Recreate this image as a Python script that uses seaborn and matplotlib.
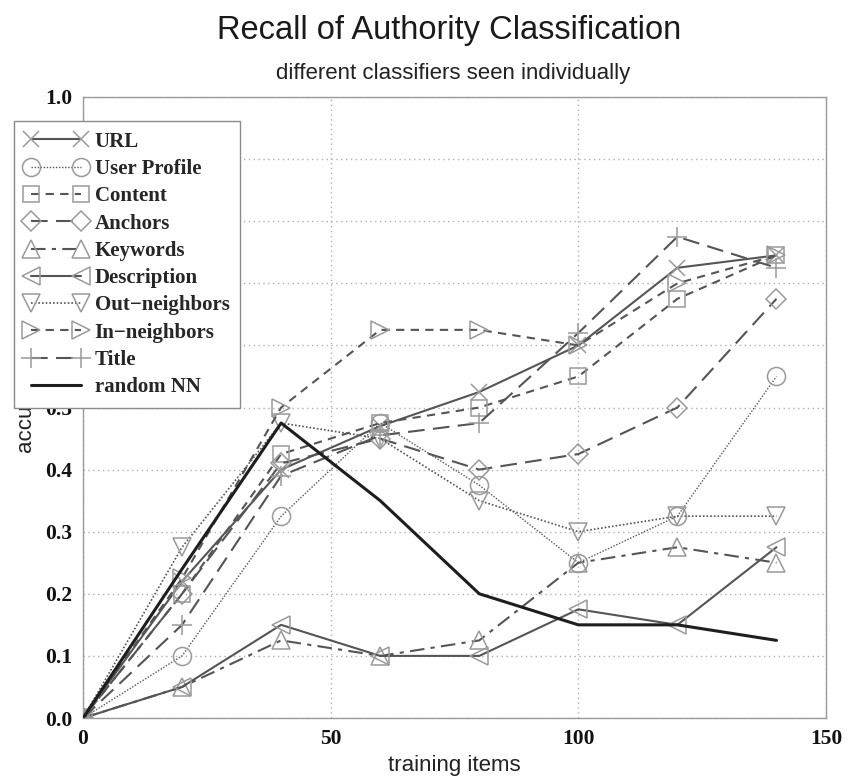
import matplotlib
matplotlib.use("Agg")
import matplotlib.pyplot as plt
import seaborn as sns
import pandas as pd

training_items = [0, 20, 40, 60, 80, 100, 120, 140]
url = [0, 0.22, 0.40, 0.47, 0.525, 0.60, 0.725, 0.745]
user_profile = [0, 0.10, 0.325, 0.475, 0.375, 0.25, 0.325, 0.55]
content = [0, 0.20, 0.425, 0.475, 0.50, 0.55, 0.675, 0.745]
anchors = [0, 0.20, 0.41, 0.45, 0.40, 0.425, 0.50, 0.675]
keywords = [0, 0.05, 0.125, 0.10, 0.125, 0.25, 0.275, 0.25]
description = [0, 0.05, 0.15, 0.10, 0.10, 0.175, 0.15, 0.275]
out_neighbors = [0, 0.275, 0.475, 0.45, 0.35, 0.30, 0.325, 0.325]
in_neighbors = [0, 0.225, 0.50, 0.625, 0.625, 0.60, 0.70, 0.745]
title_cls = [0, 0.15, 0.39, 0.455, 0.475, 0.62, 0.775, 0.725]
random_nn = [0, 0.24, 0.475, 0.35, 0.20, 0.15, 0.15, 0.125]

series_names = ["URL", "User Profile", "Content", "Anchors", "Keywords",
                "Description", "Out\u2212neighbors", "In\u2212neighbors", "Title",
                "random NN"]
series_values = [url, user_profile, content, anchors, keywords, description,
                 out_neighbors, in_neighbors, title_cls, random_nn]

sns.set_theme(style="white")
plt.rcParams["font.family"] = ["Liberation Sans", "DejaVu Sans"]

LINE = "#555555"
MARK = "#9a9a9a"
styles = {
    "URL": dict(ls="-", marker="x", ms=11, lw=1.5),
    "User Profile": dict(ls=(0, (1, 1.2)), marker="o", ms=13, lw=1.0),
    "Content": dict(ls=(0, (4, 3)), marker="s", ms=11, lw=1.5),
    "Anchors": dict(ls=(0, (8, 4)), marker="D", ms=10, lw=1.5),
    "Keywords": dict(ls=(0, (7, 3, 2, 3)), marker="^", ms=13, lw=1.5),
    "Description": dict(ls="-", marker="<", ms=13, lw=1.5),
    "Out\u2212neighbors": dict(ls=(0, (1, 1.2)), marker="v", ms=13, lw=1.2),
    "In\u2212neighbors": dict(ls=(0, (4, 3)), marker=">", ms=13, lw=1.5),
    "Title": dict(ls=(0, (8, 4)), marker="+", ms=14, lw=1.5),
}

fig = plt.figure(figsize=(8.48, 7.83), dpi=100)
ax = fig.add_axes([83 / 848, 65 / 783, 743 / 848, 621 / 783])

for name, vals in zip(series_names, series_values):
    df = pd.DataFrame({"x": training_items, "y": vals})
    if name == "random NN":
        sns.lineplot(data=df, x="x", y="y", ax=ax, color="#1e1e1e", lw=2.2,
                     estimator=None, label=name, zorder=3)
    else:
        st = styles[name]
        sns.lineplot(data=df, x="x", y="y", ax=ax, color=LINE,
                     linestyle=st["ls"], lw=st["lw"], marker=st["marker"],
                     markersize=st["ms"], markerfacecolor="none",
                     markeredgecolor=MARK, markeredgewidth=1.1,
                     estimator=None, label=name, zorder=3)

ax.set_xlim(0, 150)
ax.set_ylim(0, 1.0)
ax.set_xticks([0, 50, 100, 150])
ax.set_yticks([i / 10 for i in range(11)])
ax.set_yticklabels([f"{i / 10:.1f}" for i in range(11)])
ax.grid(True, linestyle=(0, (1, 2.5)), color="#b0b0b0", lw=1.0)
for sp in ax.spines.values():
    sp.set_color("#9a9a9a")
    sp.set_linewidth(1.0)
ax.tick_params(direction="in", length=4, color="#9a9a9a", pad=8)
for lab in ax.get_xticklabels() + ax.get_yticklabels():
    lab.set_fontfamily(["Liberation Serif", "DejaVu Serif"])
    lab.set_fontweight("bold")
    lab.set_fontsize(15.5)
    lab.set_color("#111111")

ax.set_xlabel("training items", fontsize=16, color="#222222", labelpad=4)
ax.set_ylabel("accuracy", fontsize=16, color="#222222", labelpad=6)

handles, labels = ax.get_legend_handles_labels()
leg = ax.legend(handles, labels, loc="upper left",
                bbox_to_anchor=(-0.093, 0.961), borderaxespad=0,
                numpoints=2, handlelength=3.0, handletextpad=0.38,
                labelspacing=0.35, fancybox=False, framealpha=1,
                edgecolor="#8a8a8a", borderpad=0.5,
                prop={"family": ["Liberation Serif", "DejaVu Serif"],
                      "weight": "bold", "size": 15})
leg.get_frame().set_linewidth(1.0)
leg.set_zorder(10)

fig.text(0.53, 1 - 31 / 783, "Recall of Authority Classification",
         ha="center", va="center", fontsize=23.5, color="#1a1a1a")
fig.text(0.534, 1 - 73 / 783, "different classifiers seen individually",
         ha="center", va="center", fontsize=16, color="#222222")

fig.savefig("out.png", dpi=100)
